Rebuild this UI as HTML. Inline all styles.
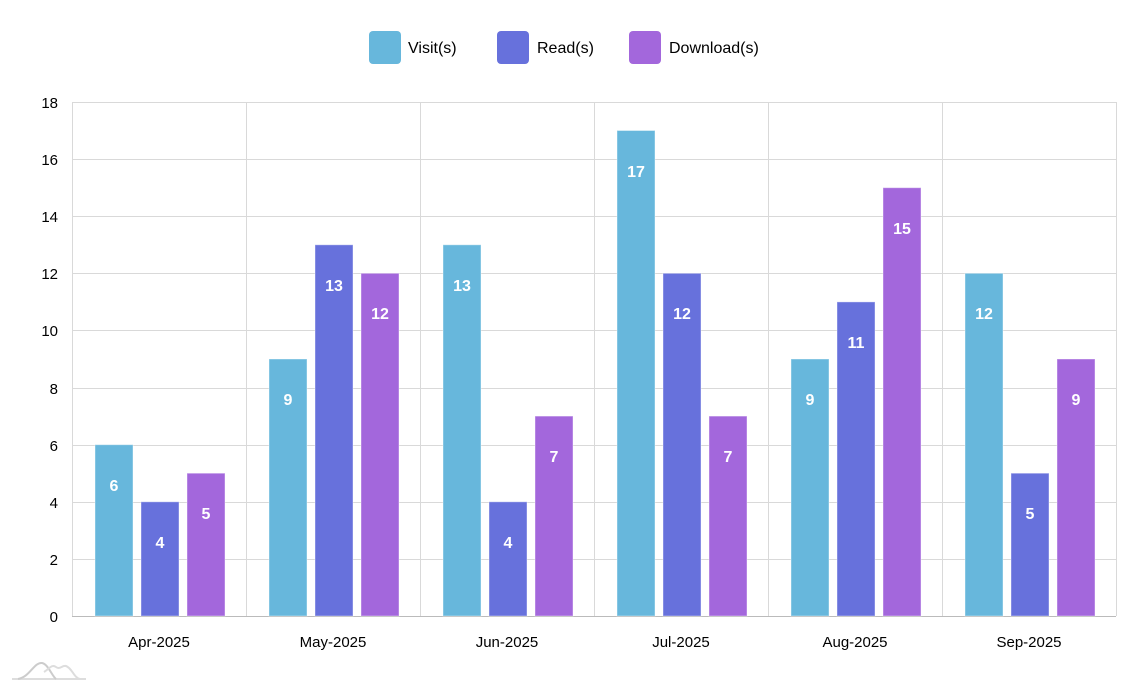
<!DOCTYPE html>
<html><head><meta charset="utf-8"><style>
html,body{margin:0;padding:0;background:#fff;}
svg text{font-family:"Liberation Sans",sans-serif;}
</style></head><body>
<svg width="1137" height="690" viewBox="0 0 1137 690" xmlns="http://www.w3.org/2000/svg">
<!-- legend -->
<rect x="369" y="31" width="32" height="33" rx="4" fill="#67b7dc"/>
<text x="408" y="53" font-size="16" fill="#000">Visit(s)</text>
<rect x="497" y="31" width="32" height="33" rx="4" fill="#6771dc"/>
<text x="537" y="53" font-size="16" fill="#000">Read(s)</text>
<rect x="629" y="31" width="32" height="33" rx="4" fill="#a367dc"/>
<text x="669" y="53" font-size="16" fill="#000">Download(s)</text>
<!-- grid -->
<g stroke="#d9d9d9" stroke-width="1">
<line x1="72" y1="102.5" x2="1116" y2="102.5"/>
<line x1="72" y1="159.5" x2="1116" y2="159.5"/>
<line x1="72" y1="216.5" x2="1116" y2="216.5"/>
<line x1="72" y1="273.5" x2="1116" y2="273.5"/>
<line x1="72" y1="330.5" x2="1116" y2="330.5"/>
<line x1="72" y1="388.5" x2="1116" y2="388.5"/>
<line x1="72" y1="445.5" x2="1116" y2="445.5"/>
<line x1="72" y1="502.5" x2="1116" y2="502.5"/>
<line x1="72" y1="559.5" x2="1116" y2="559.5"/>
<line x1="72.5" y1="102" x2="72.5" y2="616"/>
<line x1="246.5" y1="102" x2="246.5" y2="616"/>
<line x1="420.5" y1="102" x2="420.5" y2="616"/>
<line x1="594.5" y1="102" x2="594.5" y2="616"/>
<line x1="768.5" y1="102" x2="768.5" y2="616"/>
<line x1="942.5" y1="102" x2="942.5" y2="616"/>
<line x1="1116.5" y1="102" x2="1116.5" y2="616"/>
</g>
<line x1="72" y1="616.5" x2="1116" y2="616.5" stroke="#bbb"/>
<!-- y labels -->
<g font-size="15" fill="#000" text-anchor="end">
<text x="58" y="108">18</text><text x="58" y="165">16</text><text x="58" y="222">14</text>
<text x="58" y="279">12</text><text x="58" y="336">10</text><text x="58" y="394">8</text>
<text x="58" y="451">6</text><text x="58" y="508">4</text><text x="58" y="565">2</text>
<text x="58" y="622">0</text>
</g>
<!-- x labels -->
<g font-size="15" fill="#000" text-anchor="middle">
<text x="159" y="647">Apr-2025</text><text x="333" y="647">May-2025</text>
<text x="507" y="647">Jun-2025</text><text x="681" y="647">Jul-2025</text>
<text x="855" y="647">Aug-2025</text><text x="1029" y="647">Sep-2025</text>
</g>
<!-- bars -->
<g stroke="#fff" stroke-opacity="0.4">
<rect x="95" y="444.7" width="38" height="171.3" fill="#67b7dc"/>
<rect x="141" y="501.8" width="38" height="114.2" fill="#6771dc"/>
<rect x="187" y="473.2" width="38" height="142.8" fill="#a367dc"/>
<rect x="269" y="359" width="38" height="257" fill="#67b7dc"/>
<rect x="315" y="244.8" width="38" height="371.2" fill="#6771dc"/>
<rect x="361" y="273.3" width="38" height="342.7" fill="#a367dc"/>
<rect x="443" y="244.8" width="38" height="371.2" fill="#67b7dc"/>
<rect x="489" y="501.8" width="38" height="114.2" fill="#6771dc"/>
<rect x="535" y="416.1" width="38" height="199.9" fill="#a367dc"/>
<rect x="617" y="130.5" width="38" height="485.5" fill="#67b7dc"/>
<rect x="663" y="273.3" width="38" height="342.7" fill="#6771dc"/>
<rect x="709" y="416.1" width="38" height="199.9" fill="#a367dc"/>
<rect x="791" y="359" width="38" height="257" fill="#67b7dc"/>
<rect x="837" y="301.9" width="38" height="314.1" fill="#6771dc"/>
<rect x="883" y="187.7" width="38" height="428.3" fill="#a367dc"/>
<rect x="965" y="273.3" width="38" height="342.7" fill="#67b7dc"/>
<rect x="1011" y="473.2" width="38" height="142.8" fill="#6771dc"/>
<rect x="1057" y="359" width="38" height="257" fill="#a367dc"/>
</g>
<!-- bar labels -->
<g font-size="16" font-weight="bold" fill="#fff" text-anchor="middle">
<text x="114" y="491">6</text><text x="160" y="548">4</text><text x="206" y="519">5</text>
<text x="288" y="405">9</text><text x="334" y="291">13</text><text x="380" y="319">12</text>
<text x="462" y="291">13</text><text x="508" y="548">4</text><text x="554" y="462">7</text>
<text x="636" y="177">17</text><text x="682" y="319">12</text><text x="728" y="462">7</text>
<text x="810" y="405">9</text><text x="856" y="348">11</text><text x="902" y="234">15</text>
<text x="984" y="319">12</text><text x="1030" y="519">5</text><text x="1076" y="405">9</text>
</g>
<!-- logo -->
<g fill="none" stroke-width="2">
<path d="M12 679 H86" stroke="#ddd"/>
<path d="M18 679 C30 677 34 662 42 663 C48 664 52 676 56 679" stroke="#ccc"/>
<path d="M44 672 C50 668 52 664 56 667 C60 670 62 665 66 666 C72 668 74 678 80 679" stroke="#ddd"/>
</g>
</svg>
</body></html>
